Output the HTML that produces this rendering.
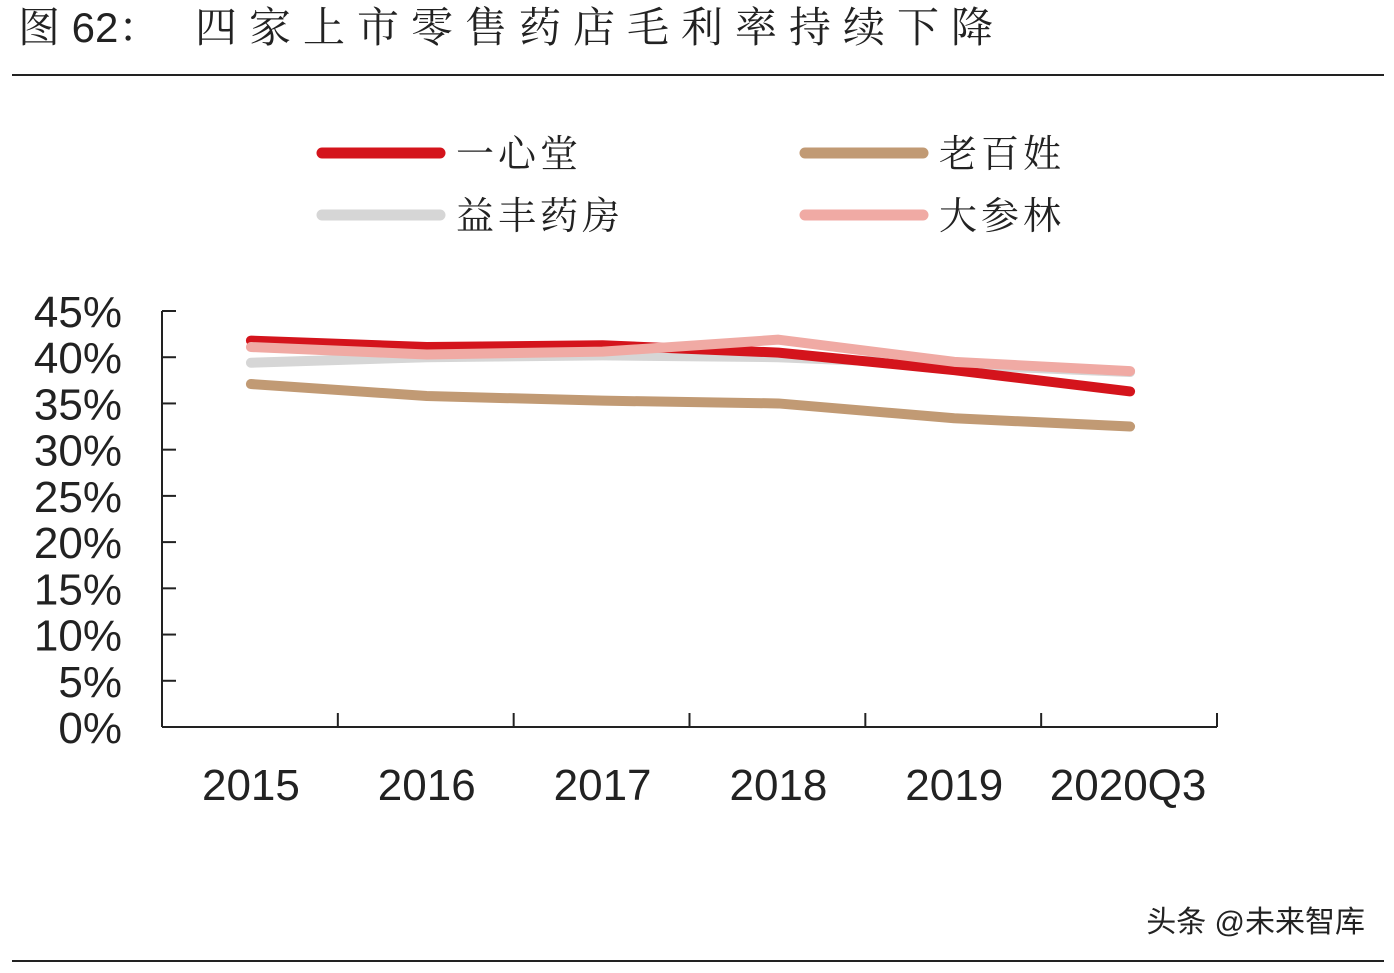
<!DOCTYPE html>
<html><head><meta charset="utf-8"><style>
body{margin:0;background:#fff;width:1394px;height:968px;overflow:hidden;font-family:"Liberation Sans","Noto Sans CJK SC",sans-serif}
</style></head><body>
<svg width="1394" height="968">
<text x="18" y="42" font-size="42" fill="#222" font-family="Liberation Sans,Noto Serif CJK SC,sans-serif"><tspan>图 62：</tspan><tspan x="195" letter-spacing="12">四家上市零售药店毛利率持续下降</tspan></text>
<line x1="12" y1="75" x2="1384" y2="75" stroke="#222" stroke-width="2"/>
<line x1="12" y1="961" x2="1384" y2="961" stroke="#222" stroke-width="2"/>
<g id="legend"></g>
<g id="axes"></g><g id="plot"></g>
<text x="1365" y="932" font-size="30" fill="#222" text-anchor="end">头条 @未来智库</text>
</svg>
<script>
const categories=["2015","2016","2017","2018","2019","2020Q3"];
const yTicks=[0,5,10,15,20,25,30,35,40,45];
const seriesNames=["一心堂","老百姓","益丰药房","大参林"];
const yixintang=[41.8,41.1,41.3,40.5,38.6,36.3];
const laobaixing=[37.1,35.8,35.3,35.0,33.4,32.5];
const yifeng=[39.4,40.0,40.2,40.0,39.2,38.4];
const dashenlin=[41.1,40.3,40.6,41.9,39.5,38.5];
const colors=["#d4141c","#c19a74","#d6d6d6","#f0aaa4"];
const NS="http://www.w3.org/2000/svg";
const x0=162,x1=1217,yb=727,yt=311;
const bw=(x1-x0)/categories.length;
const X=i=>x0+bw*(i+0.5)+1;
const Y=v=>yb-(v/45)*(yb-yt);
function mk(t,a,p){const e=document.createElementNS(NS,t);for(const k in a)e.setAttribute(k,a[k]);p.appendChild(e);return e;}
const ax=document.getElementById('axes'),pl=document.getElementById('plot'),lg=document.getElementById('legend');
let e=mk('line',{x1:x0,y1:yt,x2:x0,y2:yb,stroke:'#222','stroke-width':2},ax);

e=mk('line',{x1:x0,y1:yb,x2:x1,y2:yb,stroke:'#222','stroke-width':2},ax);

yTicks.forEach(v=>{mk('line',{x1:x0,y1:Y(v),x2:x0+14,y2:Y(v),stroke:'#222','stroke-width':2},ax);
 const t=mk('text',{x:122,y:Y(v)+16,'font-size':44,'text-anchor':'end',fill:'#222'},ax);t.textContent=v+'%';
 });
categories.forEach((c,i)=>{const xx=x0+bw*(i+1);mk('line',{x1:xx,y1:yb,x2:xx,y2:yb-14,stroke:'#222','stroke-width':2},ax);
 const t=mk('text',{x:X(i)+(i==5?-2:0),y:800,'font-size':44,'text-anchor':'middle',fill:'#222'},ax);t.textContent=c;
 });
const data=[laobaixing,yifeng,yixintang,dashenlin];const ci=[1,2,0,3];
data.forEach((d,k)=>{const p=mk('polyline',{points:d.map((v,i)=>X(i)+','+Y(v)).join(' '),fill:'none',stroke:colors[ci[k]],'stroke-width':10,'stroke-linecap':'round','stroke-linejoin':'round'},pl);
 });
const lpos=[[322,153],[805,153],[322,215],[805,215]];
seriesNames.forEach((n,i)=>{const[lx,ly]=lpos[i];const g=mk('g',{},lg);
 
 mk('line',{x1:lx,y1:ly,x2:lx+118,y2:ly,stroke:colors[i],'stroke-width':11,'stroke-linecap':'round'},g);
 const t=mk('text',{x:lx+134,y:ly+14,'font-size':38,fill:'#222','font-family':'Noto Serif CJK SC,serif','letter-spacing':4},g);t.textContent=n;});
</script>
</body></html>
